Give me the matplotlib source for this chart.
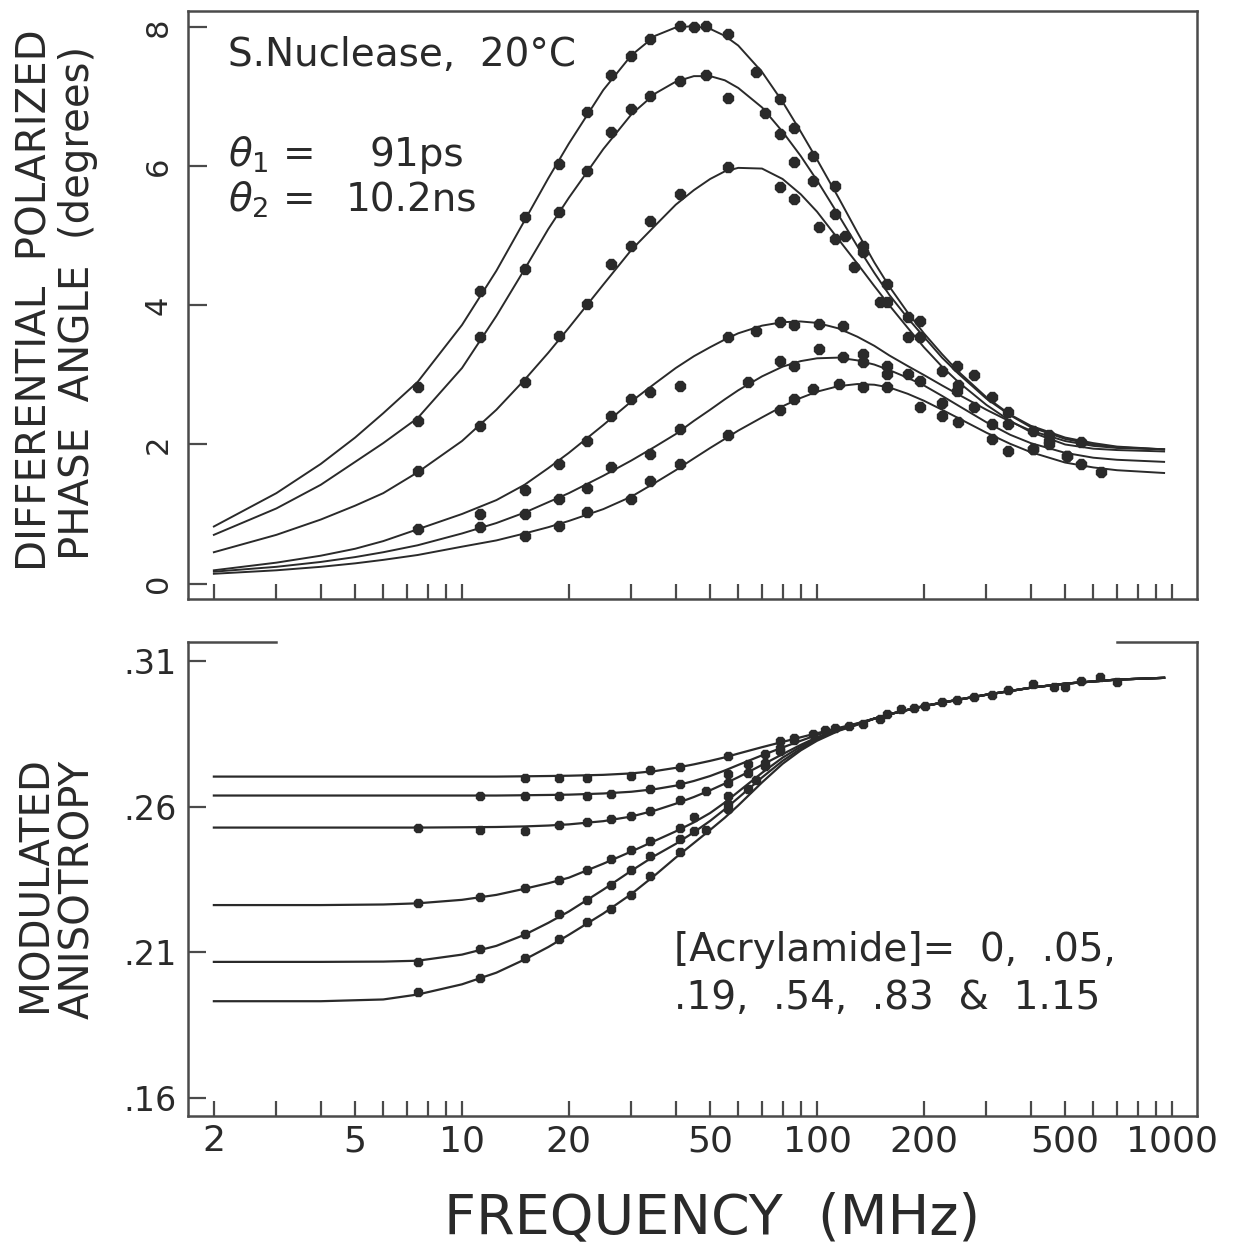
import matplotlib
matplotlib.use("Agg")
import matplotlib.pyplot as plt

# ---- top panel: differential polarized phase angle (degrees) ----
fit_freq = [2, 3, 4, 5, 6, 7.5, 10, 12.5, 15, 17.5, 20, 25, 30, 35, 40, 45, 50, 55, 60, 70,
            80, 90, 100, 115, 130, 145, 160, 180, 200, 225, 250, 300, 350, 400, 500, 600, 700, 950]
phase_fit_1 = [.82, 1.30, 1.72, 2.10, 2.45, 2.9, 3.72, 4.5, 5.22, 5.83, 6.33, 7.1, 7.6, 7.88, 8.0, 8.02, 7.98, 7.88, 7.74, 7.36,
               6.93, 6.5, 6.1, 5.55, 5.05, 4.62, 4.27, 3.9, 3.6, 3.3, 3.05, 2.68, 2.43, 2.27, 2.1, 2.02, 1.97, 1.93]
phase_fit_2 = [.70, 1.08, 1.42, 1.75, 2.02, 2.38, 3.1, 3.85, 4.52, 5.1, 5.55, 6.25, 6.75, 7.05, 7.22, 7.3, 7.3, 7.24, 7.13, 6.85,
               6.5, 6.15, 5.8, 5.3, 4.85, 4.47, 4.15, 3.82, 3.55, 3.25, 3.02, 2.66, 2.42, 2.25, 2.08, 2.0, 1.96, 1.93]
phase_fit_3 = [.45, .70, .92, 1.12, 1.3, 1.6, 2.05, 2.5, 2.93, 3.32, 3.68, 4.3, 4.8, 5.15, 5.45, 5.66, 5.82, 5.93, 5.98, 5.97,
               5.82, 5.6, 5.35, 4.95, 4.6, 4.28, 4.0, 3.68, 3.4, 3.12, 2.9, 2.57, 2.34, 2.18, 2.0, 1.94, 1.92, 1.9]
phase_fit_4 = [.19, .30, .40, .50, .61, .78, 1.0, 1.2, 1.42, 1.66, 1.88, 2.28, 2.62, 2.88, 3.1, 3.27, 3.4, 3.51, 3.6, 3.71,
               3.76, 3.77, 3.75, 3.67, 3.55, 3.42, 3.28, 3.13, 3.0, 2.85, 2.72, 2.5, 2.33, 2.2, 2.05, 1.98, 1.95, 1.93]
phase_fit_5 = [.17, .24, .31, .38, .45, .55, .72, .87, 1.02, 1.17, 1.3, 1.55, 1.77, 1.97, 2.15, 2.34, 2.5, 2.65, 2.78, 2.98,
               3.12, 3.2, 3.24, 3.25, 3.21, 3.15, 3.07, 2.96, 2.85, 2.7, 2.56, 2.32, 2.14, 2.02, 1.88, 1.81, 1.78, 1.75]
phase_fit_6 = [.14, .19, .24, .29, .34, .41, .53, .62, .72, .81, .9, 1.07, 1.25, 1.45, 1.63, 1.8, 1.95, 2.08, 2.2, 2.39,
               2.55, 2.67, 2.76, 2.84, 2.87, 2.86, 2.82, 2.73, 2.63, 2.5, 2.38, 2.17, 2.01, 1.89, 1.74, 1.67, 1.63, 1.59]

phase_f1 = [7.5, 11.25, 15, 18.75, 22.5, 26.25, 30, 33.75, 41.25, 45, 48.75, 56.25, 67.5, 78.75, 86.25, 97.5, 112.5, 135, 157.5, 180, 195, 247.5, 277.5, 345, 450, 555]
phase_v1 = [2.83, 4.21, 5.27, 6.03, 6.78, 7.31, 7.59, 7.84, 8.02, 8.00, 8.02, 7.90, 7.36, 6.97, 6.55, 6.15, 5.72, 4.86, 4.31, 3.84, 3.78, 3.13, 3.00, 2.47, 2.13, 2.04]
phase_f2 = [7.5, 11.25, 15, 18.75, 22.5, 26.25, 30, 33.75, 41.25, 48.75, 56.25, 71.25, 78.75, 86.25, 97.5, 112.5, 135, 157.5, 195, 311, 405]
phase_v2 = [2.34, 3.55, 4.53, 5.34, 5.93, 6.49, 6.82, 7.01, 7.23, 7.31, 6.98, 6.77, 6.47, 6.06, 5.79, 5.32, 4.77, 4.05, 3.55, 2.69, 2.20]
phase_f3 = [7.5, 11.25, 15, 18.75, 22.5, 26.25, 30, 33.75, 41.25, 56.25, 78.75, 86.25, 101, 112.5, 120, 127, 150, 180, 250, 450, 506]
phase_v3 = [1.62, 2.26, 2.90, 3.56, 4.02, 4.60, 4.86, 5.22, 5.60, 5.99, 5.70, 5.53, 5.13, 4.96, 5.00, 4.55, 4.05, 3.55, 2.85, 2.00, 1.84]
phase_f4 = [7.5, 11.25, 15, 18.75, 22.5, 26.25, 30, 33.75, 41.25, 56.25, 67.5, 78.75, 86.25, 101, 118, 135, 157.5, 180, 225, 247.5, 277.5, 345, 450]
phase_v4 = [0.79, 1.00, 1.34, 1.72, 2.05, 2.41, 2.66, 2.76, 2.84, 3.55, 3.64, 3.76, 3.72, 3.74, 3.71, 3.30, 3.13, 3.02, 3.06, 2.77, 2.54, 2.30, 2.05]
phase_f5 = [11.25, 15, 18.75, 22.5, 26.25, 33.75, 41.25, 63.75, 78.75, 86.25, 101, 118, 135, 157.5, 195, 225, 311, 405, 506]
phase_v5 = [0.82, 1.00, 1.22, 1.38, 1.68, 1.87, 2.23, 2.90, 3.20, 3.13, 3.38, 3.26, 3.19, 3.02, 2.92, 2.60, 2.30, 1.94, 1.84]
phase_f6 = [15, 18.75, 22.5, 30, 33.75, 41.25, 56.25, 78.75, 86.25, 97.5, 115, 135, 157.5, 195, 225, 250, 311, 345, 405, 555, 630]
phase_v6 = [0.68, 0.83, 1.03, 1.22, 1.48, 1.72, 2.13, 2.49, 2.66, 2.80, 2.87, 2.83, 2.83, 2.54, 2.41, 2.33, 2.08, 1.90, 1.94, 1.72, 1.61]

# ---- bottom panel: modulated anisotropy ----
aniso_freq = [2, 4, 6, 7.5, 10, 12.5, 15, 17.5, 20, 25, 30, 35, 40, 45, 50, 55, 60, 70, 80, 90, 100, 115, 130,
              145, 160, 180, 200, 250, 300, 400, 500, 700, 950]
aniso_tail = [.2902, .2917, .2932, .2945, .2967, .2984, .3008, .3022, .3036, .3042]
aniso_fit_a = [.2703, .2703, .2703, .2703, .2703, .2703, .2704, .2705, .2706, .2709, .2714, .2722, .2733, .2745, .2757,
               .2769, .2782, .2804, .2822, .2838, .2852, .2870, .2886] + aniso_tail
aniso_fit_b = [.2638, .2638, .2638, .2638, .2638, .2638, .2639, .2640, .2641, .2645, .2651, .2660, .2672, .2688, .2705,
               .2724, .2743, .2776, .2803, .2826, .2846, .2868, .2885] + aniso_tail
aniso_fit_c = [.2528, .2528, .2528, .2528, .2529, .2530, .2532, .2535, .2539, .2550, .2566, .2587, .2610, .2633, .2656,
               .2679, .2701, .2743, .2780, .2812, .2838, .2866, .2884] + aniso_tail
aniso_fit_d = [.2262, .2262, .2264, .2268, .2280, .2297, .2318, .2337, .2356, .2404, .2446, .2483, .2515, .2546, .2578,
               .2614, .2651, .2716, .2768, .2806, .2834, .2864, .2883] + aniso_tail
aniso_fit_e = [.2067, .2067, .2068, .2071, .2092, .2122, .2160, .2201, .2240, .2315, .2380, .2432, .2472, .2512, .2551,
               .2591, .2630, .2700, .2757, .2799, .2830, .2862, .2882] + aniso_tail
aniso_fit_f = [.1932, .1932, .1938, .1955, .1990, .2030, .2075, .2118, .2160, .2233, .2300, .2365, .2425, .2475, .2520,
               .2562, .2604, .2683, .2747, .2793, .2826, .2860, .2881] + aniso_tail

aniso_fa = [15, 18.75, 22.5, 30, 33.75, 41.25, 56.25, 78.75, 86.25, 97.5]
aniso_va = [.2698, .2699, .2699, .2705, .2725, .2736, .2773, .2824, .2835, .2850]
aniso_fb = [11.25, 15, 18.75, 22.5, 26.25, 33.75, 41.25, 56.25, 63.75, 71.25, 86.25]
aniso_vb = [.2637, .2638, .2637, .2637, .2644, .2661, .2677, .2712, .2746, .2780, .2828]
aniso_fc = [7.5, 11.25, 15, 18.75, 22.5, 26.25, 30, 33.75, 41.25, 48.75, 56.25, 63.75, 71.25, 78.75]
aniso_vc = [.2528, .2521, .2516, .2536, .2547, .2558, .2569, .2586, .2622, .2654, .2682, .2716, .2750, .2800]
aniso_fd = [7.5, 11.25, 15, 18.75, 22.5, 26.25, 30, 33.75, 41.25, 45, 56.25, 71.25, 78.75]
aniso_vd = [.2270, .2290, .2321, .2349, .2383, .2419, .2450, .2483, .2527, .2564, .2637, .2740, .2790]
aniso_fe = [7.5, 11.25, 15, 18.75, 22.5, 26.25, 30, 33.75, 41.25, 45, 56.25, 67.5]
aniso_ve = [.2067, .2112, .2163, .2231, .2281, .2332, .2383, .2431, .2490, .2515, .2610, .2690]
aniso_ff = [7.5, 11.25, 15, 18.75, 22.5, 26.25, 30, 33.75, 41.25, 48.75, 56.25, 63.75]
aniso_vf = [.1963, .2012, .2080, .2146, .2204, .2248, .2298, .2362, .2445, .2519, .2593, .2660]
aniso_f_high = [105, 112.5, 123, 135, 150, 157.5, 172, 187.5, 202, 225, 247.5, 277.5, 311, 345, 405, 465, 500, 555, 625, 700]
aniso_v_high = [.2862, .2870, .2876, .2885, .2900, .2918, .2935, .2938, .2945, .2958, .2966, .2976, .2983, .3000, .3020, .3012, .3010, .3030, .3045, .3028]

tick_freq = [2, 3, 4, 5, 6, 7, 8, 9, 10, 20, 30, 40, 50, 60, 70, 80, 90, 100,
             200, 300, 400, 500, 600, 700, 800, 900, 1000]
tick_text = {2: '2', 5: '5', 10: '10', 20: '20', 50: '50', 100: '100',
             200: '200', 500: '500', 1000: '1000'}

ink = '#2a2a2a'
frame = '#4a4a4a'

fig = plt.figure(figsize=(12.34, 12.6), dpi=100)
ax1 = fig.add_axes([188 / 1234, 1 - 599 / 1260, 1009 / 1234, 588 / 1260])
ax2 = fig.add_axes([188 / 1234, 1 - 1116 / 1260, 1009 / 1234, 474 / 1260])

for fit in (phase_fit_1, phase_fit_2, phase_fit_3, phase_fit_4, phase_fit_5, phase_fit_6):
    ax1.plot(fit_freq, fit, color=ink, lw=1.4)
for pf, pv in ((phase_f1, phase_v1), (phase_f2, phase_v2), (phase_f3, phase_v3),
               (phase_f4, phase_v4), (phase_f5, phase_v5), (phase_f6, phase_v6)):
    ax1.plot(pf, pv, ls='none', marker='8', ms=8.5, color=ink, mec=ink)

for fit in (aniso_fit_a, aniso_fit_b, aniso_fit_c, aniso_fit_d, aniso_fit_e, aniso_fit_f):
    ax2.plot(aniso_freq, fit, color=ink, lw=1.6)
for pf, pv in ((aniso_fa, aniso_va), (aniso_fb, aniso_vb), (aniso_fc, aniso_vc),
               (aniso_fd, aniso_vd), (aniso_fe, aniso_ve), (aniso_ff, aniso_vf),
               (aniso_f_high, aniso_v_high)):
    ax2.plot(pf, pv, ls='none', marker='8', ms=7, color=ink, mec=ink)

for ax in (ax1, ax2):
    ax.set_xscale('log')
    ax.set_xlim(1.691, 1176)
    ax.set_xticks(tick_freq)
    ax.minorticks_off()
    ax.tick_params(direction='in', length=11, width=1.6, color=frame, labelcolor=ink)
    for sp in ax.spines.values():
        sp.set_linewidth(1.8)
        sp.set_color(frame)

ax1.set_xticklabels([''] * len(tick_freq))
ax2.set_xticklabels([tick_text.get(t, '') for t in tick_freq], fontsize=26)
ax2.tick_params(axis='x', pad=6)

ax1.set_ylim(-0.223, 8.237)
ax1.set_yticks([0, 2, 4, 6, 8])
ax1.set_yticklabels(['0', '2', '4', '6', '8'], rotation=90, va='center', fontsize=22)
ax1.tick_params(axis='y', length=14, pad=11)

ax2.set_ylim(0.1538, 0.3165)
ax2.set_yticks([.16, .21, .26, .31])
ax2.set_yticklabels(['.16', '.21', '.26', '.31'], fontsize=24)
ax2.tick_params(axis='y', length=13, pad=8)

# bottom panel: only short pieces of the top frame line
ax2.spines['top'].set_visible(False)
ax2.plot([0, 88 / 1009], [1, 1], transform=ax2.transAxes, color=frame, lw=1.8, clip_on=False)
ax2.plot([929 / 1009, 1], [1, 1], transform=ax2.transAxes, color=frame, lw=1.8, clip_on=False)

def ftext(x, y, s, **kw):
    fig.text(x / 1234, 1 - y / 1260, s, color=ink, **kw)

ftext(36, 300, 'DIFFERENTIAL  POLARIZED', rotation=90, ha='center', va='center', fontsize=29)
ftext(78, 303, 'PHASE  ANGLE  (degrees)', rotation=90, ha='center', va='center', fontsize=29)
ftext(36, 884, 'MODULATED', rotation=90, ha='center', va='center', fontsize=29)
ftext(78, 889, 'ANISOTROPY', rotation=90, ha='center', va='center', fontsize=29)
ftext(712, 1218, 'FREQUENCY  (MHz)', ha='center', va='center', fontsize=40)

ftext(228, 55, 'S.Nuclease,  20°C', ha='left', va='center', fontsize=28)
ftext(228, 155, r'$\theta_1$ =', ha='left', va='center', fontsize=28)
ftext(464, 155, '91ps', ha='right', va='center', fontsize=28)
ftext(228, 200, r'$\theta_2$ =', ha='left', va='center', fontsize=28)
ftext(477, 200, '10.2ns', ha='right', va='center', fontsize=28)
ftext(674, 950, '[Acrylamide]=  0,  .05,', ha='left', va='center', fontsize=28)
ftext(674, 998, '.19,  .54,  .83  &  1.15', ha='left', va='center', fontsize=28)

fig.savefig('out.png', dpi=100, facecolor='white')
